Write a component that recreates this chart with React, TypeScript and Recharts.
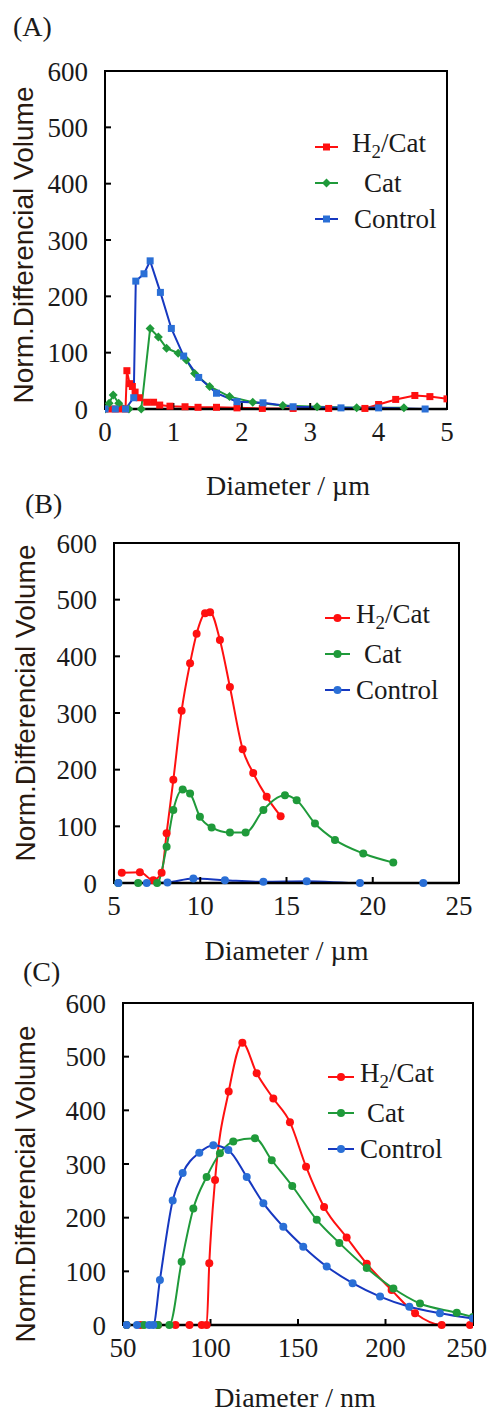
import React from 'react';
import { LineChart, Line, XAxis, YAxis, ReferenceArea, Legend, Label } from 'recharts';

const SERIF = '"Liberation Serif", "Times New Roman", serif';
const SANS = '"Liberation Sans", Arial, sans-serif';
const INK = '#1a1a1a';

const RED = '#ff1010';
const GREEN = '#1f9a3a';
const BLUE = '#1638c0';
const BLUE_DOT = '#2a6fd6';

// (A) µm range
const A_H2_X = [0, 0.1, 0.2, 0.3, 0.32, 0.36, 0.4, 0.44, 0.5, 0.61, 0.71, 0.8, 0.95, 1.17, 1.36, 1.63, 1.93, 2.3, 2.75, 3.27, 3.8, 4.0, 4.25, 4.53, 4.75, 5.0];
const A_H2_Y = [0, 0, 0, 0, 68, 45, 40, 30, 20, 12, 12, 7, 5, 4, 3, 3, 2, 1, 1, 1, 1, 8, 17, 24, 22, 18];
const A_CAT_X = [0, 0.06, 0.12, 0.2, 0.35, 0.53, 0.66, 0.78, 0.9, 1.07, 1.19, 1.31, 1.53, 1.82, 2.16, 2.6, 3.1, 3.68, 4.37];
const A_CAT_Y = [0, 10, 25, 10, 0, 0, 143, 128, 108, 99, 87, 63, 40, 22, 12, 6, 4, 2, 2];
const A_CTRL_X = [0, 0.15, 0.3, 0.42, 0.45, 0.57, 0.66, 0.81, 0.97, 1.15, 1.37, 1.63, 1.93, 2.31, 2.75, 3.45, 4.0, 4.68];
const A_CTRL_Y = [0, 0, 0, 20, 227, 240, 263, 207, 143, 94, 56, 28, 13, 11, 4, 2, 2, 0];

// (B) µm range
const B_H2_X = [5.45, 6.5, 7.28, 7.76, 8.05, 8.44, 8.92, 9.41, 9.79, 10.28, 10.57, 11.14, 11.72, 12.46, 13.07, 13.85, 14.66];
const B_H2_Y = [18, 19, 5, 18, 88, 182, 304, 388, 440, 476, 478, 429, 346, 236, 194, 152, 118];
const B_CAT_X = [5.25, 6.4, 7.5, 8.05, 8.44, 8.98, 9.41, 9.98, 10.66, 11.72, 12.63, 13.66, 14.91, 15.59, 16.65, 17.81, 19.45, 21.19];
const B_CAT_Y = [0, 0, 0, 64, 129, 165, 158, 117, 98, 89, 89, 129, 155, 146, 105, 76, 52, 36];
const B_CTRL_X = [5.25, 6.9, 8.1, 9.6, 11.43, 13.66, 16.17, 19.26, 22.93];
const B_CTRL_Y = [0, 0, 1, 8, 5, 2, 3, 0, 0];

// (C) nm range
const C_H2_X = [52, 60, 70, 80, 88, 95, 97.8, 99.3, 102.6, 110.4, 118.2, 126.4, 135.9, 145.4, 154.6, 164.9, 177.8, 189.3, 203.5, 216.9, 232.1, 248.3];
const C_H2_Y = [0, 0, 0, 0, 0, 0, 0, 115, 270, 435, 526, 469, 422, 378, 295, 220, 163, 114, 65, 22, 0, 0];
const C_CAT_X = [52, 62, 70, 76.5, 83.5, 90.2, 97.8, 105.4, 113, 125.4, 135, 146.7, 160.7, 173.6, 189.3, 204.5, 219.7, 240.7, 250];
const C_CAT_Y = [0, 0, 0, 0, 118, 217, 276, 320, 342, 348, 307, 259, 196, 153, 106, 68, 40, 23, 15];
const C_CTRL_X = [52, 58, 65, 67.3, 71.1, 78.4, 84.1, 93.6, 101.6, 110.2, 120.7, 130.2, 141.6, 153, 166.4, 181.2, 196.9, 213.6, 231.1, 250];
const C_CTRL_Y = [0, 0, 0, 0, 84, 232, 283, 321, 335, 326, 276, 227, 183, 146, 109, 78, 53, 34, 22, 12];

const Y_TICKS = [0, 100, 200, 300, 400, 500, 600];
const A_X_TICKS = [0, 1, 2, 3, 4, 5];
const B_X_TICKS = [5, 10, 15, 20, 25];
const C_X_TICKS = [50, 100, 150, 200, 250];

const zip = (xs: number[], ys: number[]) => xs.map((x, i) => ({ x, y: ys[i] }));

type Shape = 'square' | 'diamond' | 'circle';

const marker = (shape: Shape, color: string, cx: number, cy: number, s: number, key?: string) => {
	if (shape === 'square') return <rect key={key} x={cx - s} y={cy - s} width={s * 2} height={s * 2} fill={color} />;
	if (shape === 'diamond') return <path key={key} d={`M${cx},${cy - s - 1}L${cx + s + 1},${cy}L${cx},${cy + s + 1}L${cx - s - 1},${cy}Z`} fill={color} />;
	return <circle key={key} cx={cx} cy={cy} r={s} fill={color} />;
};

const dotFn = (shape: Shape, color: string, s: number, id: string) => (p: any) =>
	marker(shape, color, p.cx, p.cy, s, `${id}-${p.index}`);

const TICK_FONT = { fontFamily: SERIF, fontSize: 27, fill: INK };

// keep the last x label inside the page, like the original does
const renderXTick = (p: any) => {
	const label = String(p.payload.value);
	const half = (label.length * 13.5) / 2;
	const dx = Math.min(0, 487 - (p.x + half));
	return (
		<text
			key={`xt-${p.index}`}
			x={p.x + dx}
			y={p.y}
			dy="0.72em"
			textAnchor="middle"
			fontFamily={SERIF}
			fontSize={27}
			fill={INK}
		>
			{label}
		</text>
	);
};

interface SeriesDef {
	name: string;
	label: React.ReactNode;
	data: { x: number; y: number }[];
	line: string;
	dot: string;
	shape: Shape;
	textIndent: number;
}

interface PanelProps {
	letter: string;
	top: number;
	height: number;
	plot: { top: number; left: number; right: number; bottom: number };
	xDomain: [number, number];
	xTicks: number[];
	unit: string;
	curve: 'linear' | 'monotone';
	dotSize: number;
	series: SeriesDef[];
	legend: { left: number; top: number; lineW: number };
	xTitle: { dx: number; dy: number };
	yTitle: { x: number; dy: number };
	letterPos: { x: number; y: number };
}

const H2Cat = (
	<span>
		H<sub style={{ fontSize: '0.7em', verticalAlign: '-0.3em' }}>2</sub>/Cat
	</span>
);

const Panel: React.FC<PanelProps> = props => {
	const { plot } = props;
	const width = 489;
	return (
		<div style={{ position: 'absolute', left: 0, top: props.top, width, height: props.height }}>
			<LineChart
				width={width}
				height={props.height}
				margin={{ top: plot.top, right: width - plot.right, left: 0, bottom: 0 }}
			>
				<XAxis
					type="number"
					dataKey="x"
					domain={props.xDomain}
					ticks={props.xTicks}
					allowDataOverflow
					height={props.height - plot.bottom}
					tickSize={-6}
					tickMargin={19}
					tickLine={{ stroke: '#000', strokeWidth: 2 }}
					axisLine={{ stroke: '#000', strokeWidth: 2.5 }}
					tick={renderXTick}
					interval={0}
				>
					<Label
						content={(lp: any) => {
							const vb = lp.viewBox;
							return (
								<text
									x={vb.x + vb.width / 2 + props.xTitle.dx}
									y={vb.y + props.xTitle.dy}
									textAnchor="middle"
									dominantBaseline="central"
									fontFamily={SERIF}
									fontSize={28}
									fill={INK}
								>
									{`Diameter / ${props.unit}`}
								</text>
							);
						}}
					/>
				</XAxis>
				<YAxis
					type="number"
					domain={[0, 600]}
					ticks={Y_TICKS}
					width={plot.left}
					tickSize={-6}
					tickMargin={23}
					tickLine={{ stroke: '#000', strokeWidth: 2 }}
					axisLine={{ stroke: '#000', strokeWidth: 2 }}
					tick={TICK_FONT}
					interval={0}
				>
					<Label
						content={(lp: any) => {
							const vb = lp.viewBox;
							const cy = vb.y + vb.height / 2 + props.yTitle.dy;
							return (
								<text
									x={props.yTitle.x}
									y={cy}
									transform={`rotate(-90 ${props.yTitle.x} ${cy})`}
									textAnchor="middle"
									dominantBaseline="central"
									fontFamily={SANS}
									fontSize={28}
									fill="#2a1a10"
								>
									Norm.Differencial Volume
								</text>
							);
						}}
					/>
				</YAxis>
				<ReferenceArea
					x1={props.xDomain[0]}
					x2={props.xDomain[1]}
					y1={0}
					y2={600}
					fill="none"
					stroke="#000"
					strokeWidth={2}
					ifOverflow="visible"
				/>
				{props.series.map(s => (
					<Line
						key={s.name}
						name={s.name}
						data={s.data}
						dataKey="y"
						type={props.curve}
						stroke={s.line}
						strokeWidth={2}
						dot={dotFn(s.shape, s.dot, props.dotSize, s.name)}
						activeDot={false}
						isAnimationActive={false}
					/>
				))}
				<Legend
					layout="vertical"
					align="center"
					verticalAlign="middle"
					wrapperStyle={{ left: props.legend.left, top: props.legend.top, width: 'auto' }}
					content={() => (
						<div style={{ fontFamily: SERIF, fontSize: 27, color: INK }}>
							{props.series.map(s => (
								<div key={s.name} style={{ height: 36, display: 'flex', alignItems: 'center', whiteSpace: 'nowrap' }}>
									<svg width={props.legend.lineW} height={14} style={{ flex: 'none' }}>
										<line x1={0} x2={props.legend.lineW} y1={7} y2={7} stroke={s.line} strokeWidth={2} />
										{marker(s.shape, s.dot, props.legend.lineW / 2, 7, props.dotSize)}
									</svg>
									<span style={{ marginLeft: s.textIndent, lineHeight: '36px' }}>{s.label}</span>
								</div>
							))}
						</div>
					)}
				/>
			</LineChart>
			<div
				style={{
					position: 'absolute',
					left: props.letterPos.x,
					top: props.letterPos.y,
					fontFamily: SERIF,
					fontSize: 28,
					color: INK,
					lineHeight: '28px',
				}}
			>
				{props.letter}
			</div>
		</div>
	);
};

export default function App() {
	return (
		<div style={{ position: 'absolute', left: 0, top: 0, width: 489, height: 1412, background: '#fff', overflow: 'hidden' }}>
			<style>{'.recharts-surface { overflow: visible; }'}</style>
			<Panel
				letter="(A)"
				top={0}
				height={500}
				plot={{ top: 71, left: 105, right: 447, bottom: 409 }}
				xDomain={[0, 5]}
				xTicks={A_X_TICKS}
				unit="µm"
				curve="linear"
				dotSize={3.5}
				series={[
					{ name: 'H2/Cat', label: H2Cat, data: zip(A_H2_X, A_H2_Y), line: RED, dot: RED, shape: 'square', textIndent: 14 },
					{ name: 'Cat', label: 'Cat', data: zip(A_CAT_X, A_CAT_Y), line: GREEN, dot: GREEN, shape: 'diamond', textIndent: 26 },
					{ name: 'Control', label: 'Control', data: zip(A_CTRL_X, A_CTRL_Y), line: BLUE, dot: BLUE_DOT, shape: 'square', textIndent: 16 },
				]}
				legend={{ left: 315, top: 129, lineW: 23 }}
				xTitle={{ dx: 12, dy: 76 }}
				yTitle={{ x: 23, dy: 5 }}
				letterPos={{ x: 13, y: 13 }}
			/>
			<Panel
				letter="(B)"
				top={490}
				height={470}
				plot={{ top: 53, left: 114, right: 459, bottom: 393 }}
				xDomain={[5, 25]}
				xTicks={B_X_TICKS}
				unit="µm"
				curve="monotone"
				dotSize={4}
				series={[
					{ name: 'H2/Cat', label: H2Cat, data: zip(B_H2_X, B_H2_Y), line: RED, dot: RED, shape: 'circle', textIndent: 6 },
					{ name: 'Cat', label: ' Cat', data: zip(B_CAT_X, B_CAT_Y), line: GREEN, dot: GREEN, shape: 'circle', textIndent: 14 },
					{ name: 'Control', label: 'Control', data: zip(B_CTRL_X, B_CTRL_Y), line: BLUE, dot: BLUE_DOT, shape: 'circle', textIndent: 6 },
				]}
				legend={{ left: 325, top: 110, lineW: 25 }}
				xTitle={{ dx: 0, dy: 67 }}
				yTitle={{ x: 25, dy: -10 }}
				letterPos={{ x: 25, y: 0 }}
			/>
			<Panel
				letter="(C)"
				top={955}
				height={457}
				plot={{ top: 48, left: 123, right: 473, bottom: 370 }}
				xDomain={[50, 250]}
				xTicks={C_X_TICKS}
				unit="nm"
				curve="monotone"
				dotSize={4}
				series={[
					{ name: 'H2/Cat', label: H2Cat, data: zip(C_H2_X, C_H2_Y), line: RED, dot: RED, shape: 'circle', textIndent: 6 },
					{ name: 'Cat', label: 'Cat', data: zip(C_CAT_X, C_CAT_Y), line: GREEN, dot: GREEN, shape: 'circle', textIndent: 13 },
					{ name: 'Control', label: 'Control', data: zip(C_CTRL_X, C_CTRL_Y), line: BLUE, dot: BLUE_DOT, shape: 'circle', textIndent: 6 },
				]}
				legend={{ left: 328, top: 104, lineW: 26 }}
				xTitle={{ dx: -3, dy: 72 }}
				yTitle={{ x: 25, dy: 20 }}
				letterPos={{ x: 23, y: 3 }}
			/>
		</div>
	);
}
